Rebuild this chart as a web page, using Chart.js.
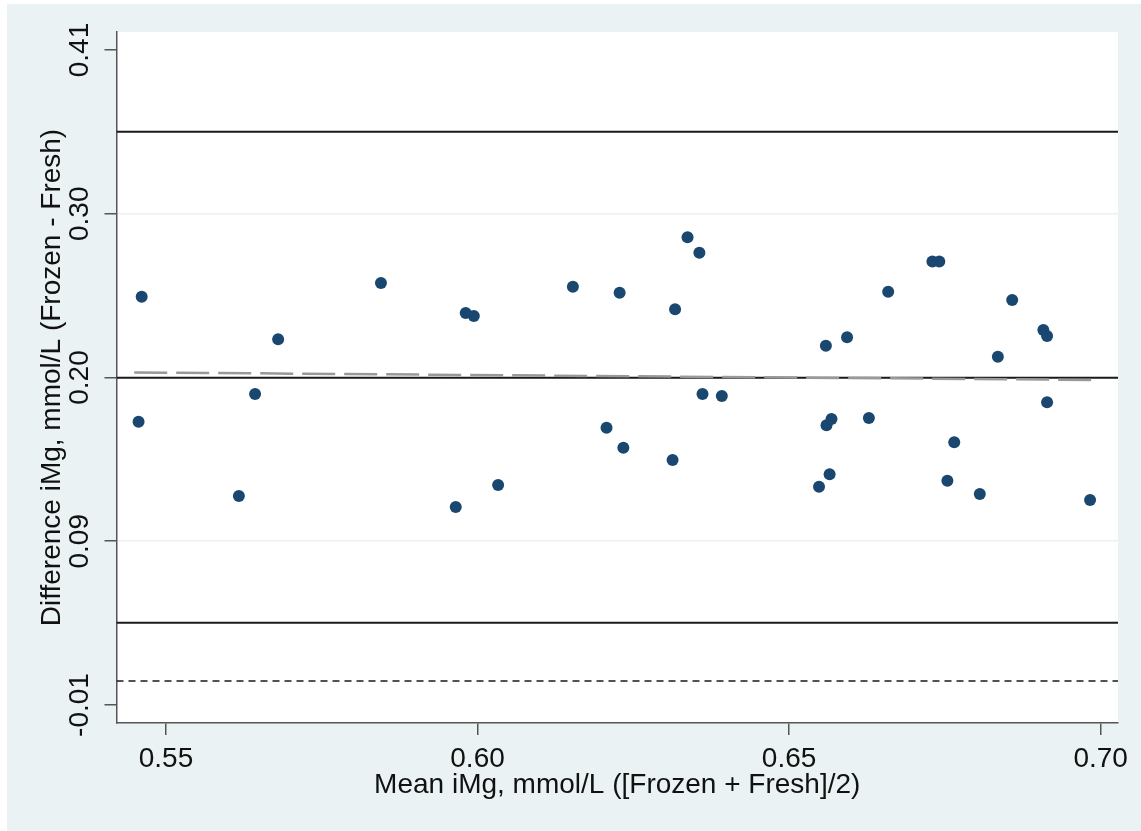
<!DOCTYPE html>
<html><head><meta charset="utf-8">
<script src="https://cdn.jsdelivr.net/npm/chart.js@4/dist/chart.umd.min.js"></script>
<style>html,body{margin:0;padding:0;background:#fff;} canvas{display:block;}</style>
</head><body>
<canvas id="c" width="1141" height="831"></canvas>
<script>
// Mean of the two measurements (x) and their difference (y)
const meanValues = [0.5461, 0.5456, 0.5617, 0.5643, 0.5680, 0.5845, 0.5965, 0.5981, 0.5994, 0.6033,
  0.6153, 0.6207, 0.6228, 0.6234, 0.6313, 0.6317, 0.6337, 0.6356, 0.6361, 0.6392,
  0.6548, 0.6565, 0.6560, 0.6568, 0.6559, 0.6593, 0.6628, 0.6659, 0.6730, 0.6741,
  0.6754, 0.6765, 0.6806, 0.6835, 0.6858, 0.6908, 0.6914, 0.6914, 0.6983];
const diffValues = [0.2501, 0.1695, 0.1217, 0.1874, 0.2226, 0.2589, 0.1146, 0.2396, 0.2376, 0.1287,
  0.2565, 0.1657, 0.2526, 0.1528, 0.1448, 0.2419, 0.2883, 0.2784, 0.1874, 0.1861,
  0.1276, 0.1356, 0.1672, 0.1713, 0.2185, 0.2239, 0.1719, 0.2533, 0.2727, 0.2727,
  0.1315, 0.1563, 0.1229, 0.2114, 0.2479, 0.2286, 0.2247, 0.1820, 0.1191];

const xTickValues = [0.55, 0.60, 0.65, 0.70];
const xTickLabels = ['0.55', '0.60', '0.65', '0.70'];
const yTickValues = [-0.0130, 0.0925, 0.1980, 0.3035, 0.4090];
const yTickLabels = ['-0.01', '0.09', '0.20', '0.30', '0.41'];
const xRange = [0.54206, 0.70278];
const yRange = [-0.0246, 0.4206];

const meanDiff = 0.1979;
const upperLimit = 0.3564;
const lowerLimit = 0.0400;
const dashedRef = 0.0025;
const regressionX = [0.5449, 0.6999];
const regressionY = [0.2013, 0.1964];

const FONT = "'Liberation Sans', Arial, Helvetica, sans-serif";
Chart.defaults.font.family = FONT;

const points = meanValues.map((x, i) => ({ x: x, y: diffValues[i] }));
const hLine = v => [{ x: xRange[0], y: v }, { x: xRange[1], y: v }];

const bgPlugin = {
  id: 'bg',
  beforeDraw(chart) {
    const { ctx, chartArea: a } = chart;
    ctx.save();
    ctx.fillStyle = '#ffffff';
    ctx.fillRect(0, 0, chart.width, chart.height);
    ctx.fillStyle = '#eaf2f3';
    ctx.fillRect(7, 4, chart.width - 7, chart.height - 4);
    ctx.fillStyle = '#ffffff';
    ctx.fillRect(a.left, a.top, a.right - a.left, a.bottom - a.top);
    ctx.restore();
  }
};

const lineStyle = { showLine: true, pointRadius: 0, pointHoverRadius: 0, fill: false, tension: 0 };

new Chart(document.getElementById('c'), {
  type: 'scatter',
  data: {
    datasets: [
      { label: 'points', data: points, backgroundColor: '#1a476f', borderWidth: 0, pointRadius: 6, order: 1 },
      Object.assign({ label: 'regression', data: regressionX.map((x, i) => ({ x: x, y: regressionY[i] })),
        borderColor: '#999999', borderWidth: 2.5, borderDash: [33, 9], order: 2 }, lineStyle),
      Object.assign({ label: 'mean', data: hLine(meanDiff), borderColor: '#1a1a1a', borderWidth: 2, order: 3 }, lineStyle),
      Object.assign({ label: 'upper', data: hLine(upperLimit), borderColor: '#1a1a1a', borderWidth: 2, order: 3 }, lineStyle),
      Object.assign({ label: 'lower', data: hLine(lowerLimit), borderColor: '#1a1a1a', borderWidth: 2, order: 3 }, lineStyle),
      Object.assign({ label: 'ref', data: hLine(dashedRef), borderColor: '#1a1a1a', borderWidth: 1.5, borderDash: [7, 5], order: 3 }, lineStyle)
    ]
  },
  options: {
    responsive: false,
    devicePixelRatio: 1,
    animation: false,
    layout: { padding: { left: 0, top: 32, right: 23, bottom: 0 } },
    plugins: { legend: { display: false }, tooltip: { enabled: false }, title: { display: false } },
    scales: {
      x: {
        type: 'linear', position: 'bottom', min: xRange[0], max: xRange[1],
        afterBuildTicks: s => { s.ticks = xTickValues.map(v => ({ value: v })); },
        afterFit: s => { s.height = 108; },
        ticks: { autoSkip: false, minRotation: 0, maxRotation: 0, padding: 7, color: '#111', font: { size: 28 },
          callback: (v, i) => xTickLabels[i] },
        grid: { display: true, drawOnChartArea: false, drawTicks: true, tickLength: 12, tickColor: '#555', tickWidth: 1.5, lineWidth: 1.5 },
        border: { display: true, color: '#555', width: 1.5 },
        title: { display: true, text: 'Mean iMg, mmol/L ([Frozen + Fresh]/2)', color: '#111', font: { size: 28 }, padding: { top: 0, bottom: 29 } }
      },
      y: {
        type: 'linear', position: 'left', min: yRange[0], max: yRange[1],
        afterBuildTicks: s => { s.ticks = yTickValues.map(v => ({ value: v })); },
        afterFit: s => { s.width = 116.5; },
        ticks: { autoSkip: false, minRotation: 90, maxRotation: 90, padding: -8, crossAlign: 'center', color: '#111', font: { size: 28 },
          callback: (v, i) => yTickLabels[i] },
        grid: {
          display: true, drawOnChartArea: true, drawTicks: true, tickLength: 12, tickColor: '#555', tickWidth: 1.5, lineWidth: 1.5,
          color: ctx => (ctx.index === 0 || ctx.index === yTickValues.length - 1) ? 'rgba(0,0,0,0)' : '#eaf2f3'
        },
        border: { display: true, color: '#555', width: 1.5 },
        title: { display: true, text: 'Difference iMg, mmol/L (Frozen - Fresh)', color: '#111', font: { size: 28 }, padding: { top: 35, bottom: 0 } }
      }
    }
  },
  plugins: [bgPlugin]
});
</script>
</body></html>
